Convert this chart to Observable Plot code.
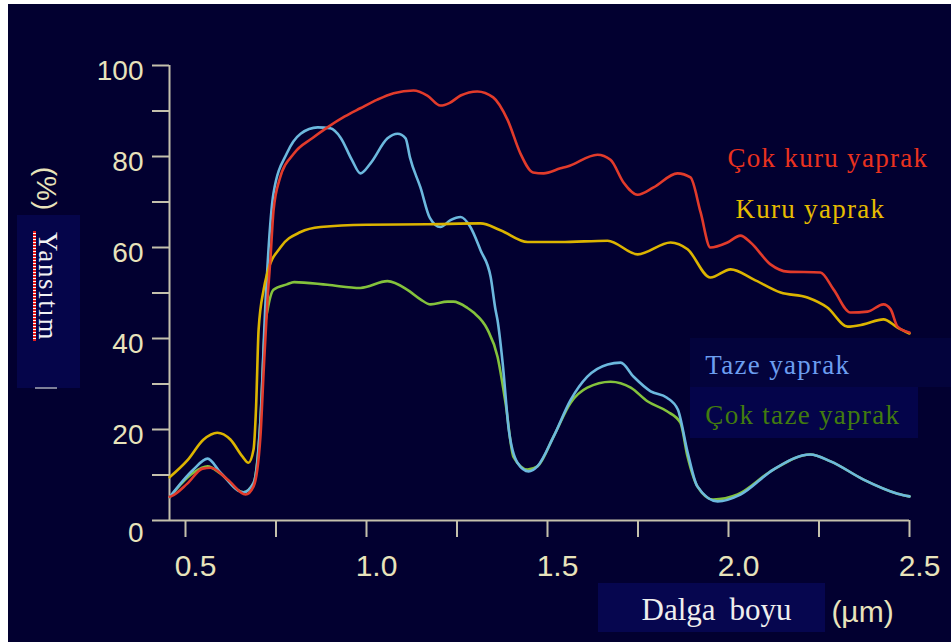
<!DOCTYPE html>
<html>
<head>
<meta charset="utf-8">
<script src="https://cdn.jsdelivr.net/npm/d3@7"></script>
<script src="https://cdn.jsdelivr.net/npm/@observablehq/plot@0.6"></script>
<style>
  html, body { margin: 0; padding: 0; background: #ffffff; }
  #wrap { position: relative; width: 951px; height: 642px; overflow: hidden; }
  #panel { position: absolute; left: 8px; top: 4px; right: 0; bottom: 0; background: #020030; }
  .box { position: absolute; }
  #chart { position: absolute; left: 0; top: 0; }
  .squiggle { background: repeating-linear-gradient(to bottom, #e41c1c 0 2px, #ffffff 2px 3px); }
</style>
</head>
<body>
<div id="wrap">
  <div id="panel"></div>
  <!-- label plates behind the texts -->
  <div class="box" style="left:17px;top:215px;width:63px;height:173px;background:#05054a"></div>
  <div class="box" style="left:35px;top:387px;width:22px;height:2px;background:#7d7f98"></div>
  <div class="box squiggle" style="left:33px;top:231px;width:3px;height:110px"></div>
  <div class="box" style="left:690px;top:338px;width:261px;height:49px;background:#03033c"></div>
  <div class="box" style="left:690px;top:387px;width:228px;height:51px;background:#04044a"></div>
  <div class="box" style="left:598px;top:583px;width:227px;height:49px;background:#06064f"></div>
  <div id="chart"></div>
</div>
<script>
// Reflectance spectra of leaves (wavelength in µm, reflectance in %)
const cokKuruWl = [0.456, 0.46, 0.505, 0.547, 0.57, 0.616, 0.666, 0.688, 0.707, 0.716, 0.726, 0.735, 0.743, 0.76, 0.80, 0.85, 0.892, 0.94, 0.983, 1.03, 1.075, 1.13, 1.168, 1.204, 1.23, 1.26, 1.306, 1.35, 1.39, 1.425, 1.46, 1.489, 1.536, 1.555, 1.638, 1.674, 1.71, 1.749, 1.793, 1.859, 1.895, 1.923, 1.95, 1.997, 2.033, 2.061, 2.116, 2.163, 2.254, 2.29, 2.337, 2.384, 2.428, 2.448, 2.467, 2.5];
const cokKuruR  = [5.2, 5.3, 8.1, 11.4, 11.6, 9.0, 5.7, 7.5, 18.5, 33, 47.9, 58, 68, 75, 80.7, 84, 86.4, 88.8, 90.6, 92.5, 93.9, 94.5, 93.4, 91.2, 91.8, 93.4, 94.3, 93, 88, 80.7, 76.5, 76.3, 77.4, 77.8, 80.4, 79.3, 74.3, 71.6, 73.2, 76.3, 75.4, 67.7, 60, 61.1, 62.6, 61.1, 56.3, 54.7, 54.5, 50.8, 45.7, 45.9, 47.5, 46.4, 42.6, 41.3];

const kuruWl = [0.456, 0.505, 0.55, 0.588, 0.624, 0.657, 0.674, 0.688, 0.695, 0.702, 0.716, 0.726, 0.762, 0.818, 0.873, 1.0, 1.168, 1.315, 1.37, 1.445, 1.536, 1.666, 1.749, 1.84, 1.887, 1.95, 2.006, 2.069, 2.144, 2.218, 2.273, 2.329, 2.373, 2.428, 2.467, 2.5];
const kuruR  = [9.5, 13.2, 17.8, 19.3, 17.8, 14.1, 12.7, 15.6, 25, 42, 50.8, 54.4, 60, 63.4, 64.5, 65, 65.1, 65.3, 63.8, 61.2, 61.2, 61.5, 58.5, 61.1, 59.6, 53.4, 55.2, 53, 50.1, 49, 46.8, 42.6, 43.1, 44.2, 42.4, 41.1];

const tazeWl = [0.456, 0.522, 0.561, 0.597, 0.66, 0.688, 0.707, 0.721, 0.743, 0.78, 0.818, 0.865, 0.90, 0.928, 0.96, 0.983, 1.011, 1.058, 1.086, 1.108, 1.12, 1.149, 1.175, 1.204, 1.232, 1.26, 1.287, 1.315, 1.343, 1.356, 1.362, 1.376, 1.393, 1.417, 1.448, 1.472, 1.517, 1.564, 1.61, 1.666, 1.702, 1.738, 1.785, 1.83, 1.86, 1.887, 1.914, 1.97, 2.033, 2.124, 2.226, 2.282, 2.373, 2.467, 2.5];
const tazeR  = [5.1, 11.2, 13.6, 10.5, 6.2, 8.2, 22, 47.9, 71.9, 80.7, 85, 86.4, 86.2, 84.2, 79.2, 76.3, 78.5, 84, 85, 84, 79.8, 73.2, 66.5, 64.5, 66, 66.7, 64.5, 59.4, 53.5, 46.5, 44, 34.7, 20, 12.7, 10.8, 11.9, 18.5, 26.5, 31.6, 34.3, 34.7, 31.6, 28.4, 27, 24.4, 15, 7.5, 4.2, 5.7, 11.2, 14.5, 13, 9, 5.9, 5.3];

const cokTazeWl = [0.456, 0.522, 0.561, 0.597, 0.66, 0.688, 0.707, 0.72, 0.726, 0.743, 0.78, 0.80, 0.892, 0.983, 1.058, 1.113, 1.149, 1.177, 1.224, 1.24, 1.279, 1.296, 1.334, 1.362, 1.384, 1.406, 1.445, 1.472, 1.517, 1.564, 1.61, 1.674, 1.73, 1.776, 1.83, 1.867, 1.887, 1.914, 1.958, 2.025, 2.124, 2.226, 2.282, 2.373, 2.467, 2.5];
const cokTazeR  = [5.1, 10.5, 11.9, 10.3, 6.2, 8.2, 22, 43, 46, 50.7, 51.9, 52.4, 51.8, 51.1, 52.6, 50.7, 48.6, 47.5, 48.1, 48.1, 46.7, 45.7, 42, 36, 25.9, 14, 11.2, 11.9, 18.5, 25.9, 29.2, 30.5, 29.2, 26.2, 24, 21.5, 14, 7.5, 4.6, 5.7, 11.2, 14.5, 13, 9, 5.9, 5.3];

// Axis ticks and labels
const yTicks = [0, 10, 20, 30, 40, 50, 60, 70, 80, 90, 100];
const yTickLabels = [20, 40, 60, 80, 100];
const yZeroLabel = [0];
const xTicks = [0.5, 0.75, 1.0, 1.25, 1.5, 1.75, 2.0, 2.25, 2.5];
const xTickLabels = [0.5, 1.0, 1.5, 2.0, 2.5];

// Series names
const seriesNames = ["Çok kuru yaprak", "Kuru yaprak", "Taze yaprak", "Çok taze yaprak"];
const yTitle = "Yansıtım";
const yUnit = "(%)";
const xTitle = "Dalga boyu";
const xUnit = "(µm)";

const rows = (wl, r) => wl.map((w, i) => ({wl: w, r: r[i]}));

const axisColor = "#c4c0ac";
const labelColor = "#e8e3bb";
const sans = "Liberation Sans, Arial, sans-serif";
const serif = "Liberation Serif, Times New Roman, serif";
const xMin = 0.4558;

const lineOpts = {x: "wl", y: "r", curve: "monotone-x", strokeWidth: 2.6, strokeLinejoin: "round"};
const legendOpts = {textAnchor: "start", fontFamily: serif, fontSize: 27};
const titleOpts = {textAnchor: "middle", lineAnchor: "middle"};
const yLabelOpts = {tickSize: 0, tickPadding: 26, fill: labelColor, fontSize: 28, fontFamily: sans, label: null};

const chart = Plot.plot({
  width: 951,
  height: 642,
  marginLeft: 169,
  marginRight: 42,
  marginTop: 65,
  marginBottom: 122,
  style: {background: "transparent", overflow: "visible"},
  x: {domain: [xMin, 2.5], label: null},
  y: {domain: [0, 100], label: null},
  marks: [
    Plot.ruleX([xMin], {stroke: axisColor, strokeWidth: 2}),
    Plot.ruleY([0], {stroke: axisColor, strokeWidth: 2}),
    Plot.axisY(yTicks, {tickSize: 17, tickFormat: () => "", stroke: axisColor, strokeWidth: 2, label: null}),
    Plot.axisY(yTickLabels, {...yLabelOpts, dy: 6}),
    Plot.axisY(yZeroLabel, {...yLabelOpts, dy: 13}),
    Plot.axisX(xTicks, {tickSize: 17, tickFormat: () => "", stroke: axisColor, strokeWidth: 2, label: null}),
    Plot.axisX(xTickLabels, {tickSize: 0, tickPadding: 34, dx: 10, fill: labelColor, fontSize: 30, fontFamily: sans, tickFormat: d3.format(".1f"), label: null}),

    Plot.line(rows(cokTazeWl, cokTazeR), {...lineOpts, stroke: "#84c23c"}),
    Plot.line(rows(tazeWl, tazeR), {...lineOpts, stroke: "#6cb8de"}),
    Plot.line(rows(kuruWl, kuruR), {...lineOpts, stroke: "#dcb400"}),
    Plot.line(rows(cokKuruWl, cokKuruR), {...lineOpts, stroke: "#e23b2b"}),

    // series labels beside the curves
    Plot.text([seriesNames[0]], {...legendOpts, x: 1.997, y: 79.5, fill: "#ea321e"}),
    Plot.text([seriesNames[1]], {...legendOpts, x: 2.019, y: 68.3, fill: "#e6bc00"}),
    Plot.text([seriesNames[2]], {...legendOpts, x: 1.936, y: 34.2, fill: "#6c9ef0"}),
    Plot.text([seriesNames[3]], {...legendOpts, x: 1.936, y: 23.2, fill: "#427c0e"}),

    // axis titles
    Plot.text([yUnit], {...titleOpts, frameAnchor: "top-left", dx: 45 - 169, dy: 188 - 65, rotate: 90, fill: labelColor, fontFamily: sans, fontSize: 28}),
    Plot.text([yTitle], {...titleOpts, frameAnchor: "top-left", dx: 47 - 169, dy: 286 - 65, rotate: 90, fill: "#f2f2f2", fontFamily: serif, fontSize: 27}),
    Plot.text([xTitle], {...titleOpts, frameAnchor: "bottom-left", dx: 716 - 169, dy: 90, fill: "#eeeeee", fontFamily: serif, fontSize: 31}),
    Plot.text([xUnit], {...titleOpts, frameAnchor: "bottom-left", dx: 862 - 169, dy: 92, fill: labelColor, fontFamily: sans, fontSize: 30})
  ]
});

document.getElementById("chart").appendChild(chart);

// typographic touches: spaced-out serif labels
const svg = d3.select(chart);
svg.selectAll("text").each(function () {
  const t = this.textContent;
  if (seriesNames.includes(t)) d3.select(this).style("letter-spacing", "1.3px");
  if (t === yTitle) d3.select(this).style("letter-spacing", "1.6px");
  if (t === xTitle) d3.select(this).style("word-spacing", "6px");
});
</script>
</body>
</html>
